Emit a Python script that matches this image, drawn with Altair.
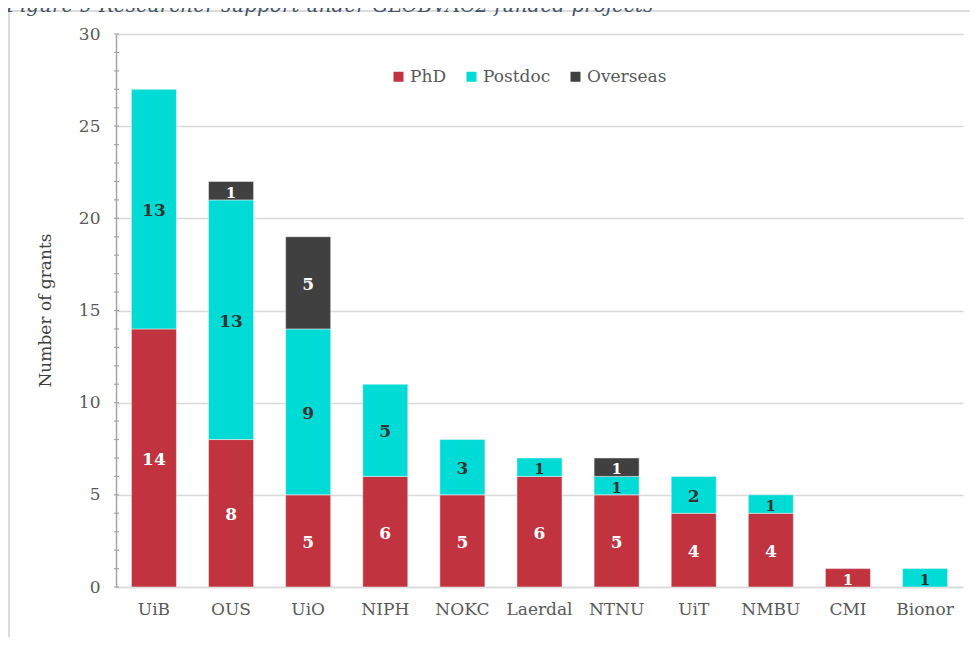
import altair as alt
import pandas as pd

institutions = ["UiB", "OUS", "UiO", "NIPH", "NOKC", "Laerdal", "NTNU", "UiT", "NMBU", "CMI", "Bionor"]
phd = [14, 8, 5, 6, 5, 6, 5, 4, 4, 1, 0]
postdoc = [13, 13, 9, 5, 3, 1, 1, 2, 1, 0, 1]
overseas = [0, 1, 5, 0, 0, 0, 1, 0, 0, 0, 0]
series = ["PhD", "Postdoc", "Overseas"]
colors = ["#C1343F", "#00DCD5", "#404040"]
y_major = [0, 5, 10, 15, 20, 25, 30]
y_minor = list(range(0, 31))
title_text = "Figure 9 Researcher support under GLOBVAC2 funded projects"
y_title = "Number of grants"

rows = []
for i, inst in enumerate(institutions):
    for k, vals in enumerate([phd, postdoc, overseas]):
        if vals[i] > 0:
            rows.append({"inst": inst, "series": series[k], "order": k, "value": vals[i]})
df = pd.DataFrame(rows)

FONT = "Georgia, 'DejaVu Serif', serif"
W, H = 847, 553
PAD_L, PAD_T = 108, 26

yscale = alt.Scale(domain=[0, 30], nice=False, zero=True)
xenc = alt.X(
    "inst:N",
    sort=institutions,
    scale=alt.Scale(paddingInner=0.416, paddingOuter=0.2),
    axis=alt.Axis(
        title=None, labelAngle=0, labelFont=FONT, labelFontSize=17,
        labelColor="#595959", labelPadding=14, ticks=False,
        domainColor="#d9d9d9", domainWidth=1.5, grid=False,
    ),
)

base = (
    alt.Chart(df)
    .transform_stack(
        stack="value", groupby=["inst"], as_=["y0", "y1"],
        sort=[alt.SortField("order", order="ascending")],
    )
    .transform_calculate(mid="(datum.y0 + datum.y1) / 2")
)

bars = base.mark_bar(stroke="#f4f4f4", strokeWidth=0.5).encode(
    x=xenc,
    y=alt.Y(
        "y0:Q", scale=yscale,
        axis=alt.Axis(
            title=None, values=y_major, ticks=False, labelFont=FONT,
            labelFontSize=17, labelColor="#595959", labelPadding=16,
            domainColor="#a6a6a6", domainWidth=1.5,
            grid=True, gridColor="#d9d9d9", gridWidth=1.5,
        ),
    ),
    y2="y1:Q",
    color=alt.Color(
        "series:N",
        scale=alt.Scale(domain=series, range=colors),
        legend=alt.Legend(
            title=None, orient="none", legendX=274, legendY=34,
            direction="horizontal", symbolType="square", symbolSize=100,
            symbolStrokeWidth=0, labelFont=FONT, labelFontSize=17,
            labelColor="#595959", columnPadding=16, labelOffset=3,
        ),
    ),
    order=alt.Order("order:Q"),
)

labels = base.mark_text(font=FONT, fontWeight="bold", baseline="middle", dy=2).encode(
    x=alt.X("inst:N", sort=institutions),
    y=alt.Y("mid:Q", scale=yscale),
    text="value:Q",
    size=alt.condition(alt.datum.value == 1, alt.value(15), alt.value(17)),
    color=alt.condition(alt.datum.series == "Postdoc", alt.value("#333333"), alt.value("white")),
)

ticks = (
    alt.Chart(pd.DataFrame({"v": y_minor}))
    .mark_rule(color="#a6a6a6", strokeWidth=1.2)
    .encode(y=alt.Y("v:Q", scale=yscale), x=alt.value(-2), x2=alt.value(3))
)

one = pd.DataFrame({"t": [title_text], "yt": [y_title]})
frame_left = alt.Chart(one).mark_rule(color="#dcdcdc", strokeWidth=2).encode(
    x=alt.value(-107), y=alt.value(-23), y2=alt.value(H + 80)
)
frame_top = alt.Chart(one).mark_rule(color="#dcdcdc", strokeWidth=2).encode(
    x=alt.value(-107), x2=alt.value(W + 20), y=alt.value(-23)
)
title = alt.Chart(one).mark_text(
    font=FONT, fontStyle="italic", fontSize=20, color="#44546A",
    align="left", baseline="alphabetic",
).encode(text="t:N", x=alt.value(-110), y=alt.value(-22))
ytitle = alt.Chart(one).mark_text(
    font=FONT, fontSize=17, color="#404040", angle=270,
    align="center", baseline="middle",
).encode(text="yt:N", x=alt.value(-70), y=alt.value(H / 2))

chart = (
    alt.layer(frame_left, frame_top, title, ytitle, bars, ticks, labels)
    .properties(
        width=W, height=H, autosize=alt.AutoSizeParams(type="none"),
        padding={"left": PAD_L, "top": PAD_T, "right": 7, "bottom": 50},
    )
    .configure_view(stroke=None)
)

chart.save("out.html", embed_options={"renderer": "svg", "actions": False})
